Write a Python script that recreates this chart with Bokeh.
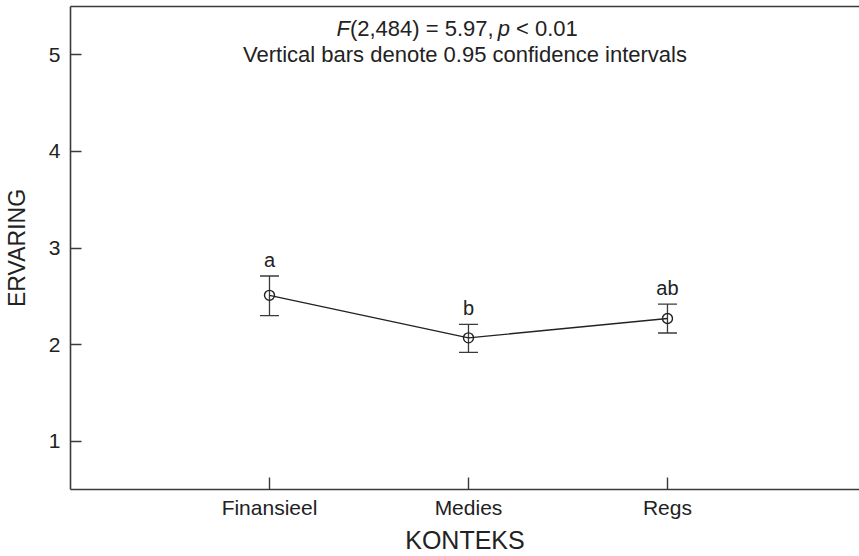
from bokeh.plotting import figure
from bokeh.models import Range1d, FixedTicker, LinearAxis, Whisker, ColumnDataSource, TeeHead
from bokeh.core.properties import value
from bokeh.embed import file_html
from bokeh.resources import INLINE

# ---- data ----
categories = ["Finansieel", "Medies", "Regs"]
means = [2.51, 2.07, 2.27]
ci_lower = [2.30, 1.92, 2.12]
ci_upper = [2.71, 2.21, 2.42]
letters = ["a", "b", "ab"]
y_ticks = [1, 2, 3, 4, 5]
x_label = "KONTEKS"
y_label = "ERVARING"
title_pieces = ["F", "(2,484) = 5.97,", "p", "< 0.01"]
title_styles = ["italic", "normal", "italic", "normal"]
subtitle = "Vertical bars denote 0.95 confidence intervals"

FONT = "Liberation Sans"
INK = "#222222"
AX = "#3a3a3a"

xs = list(range(1, len(categories) + 1))
src = ColumnDataSource(dict(x=xs, mean=means, lower=ci_lower, upper=ci_upper, letter=letters))

x_range = Range1d(0, 3.965)
y_range = Range1d(0.5, 5.5)

p = figure(width=859, height=556, x_range=x_range, y_range=y_range,
           output_backend="svg", toolbar_location=None,
           min_border_left=70, min_border_right=0, min_border_top=6, min_border_bottom=67,
           x_axis_label=x_label, y_axis_label=y_label)
p.outline_line_color = None
p.grid.visible = False
p.background_fill_color = "white"
p.border_fill_color = "white"

# axes
p.xaxis.ticker = FixedTicker(ticks=xs)
p.xaxis.major_label_overrides = {x: c for x, c in zip(xs, categories)}
p.yaxis.ticker = FixedTicker(ticks=y_ticks)
for ax in (p.xaxis, p.yaxis):
    ax.axis_line_color = AX
    ax.axis_line_width = 1.6
    ax.major_tick_line_color = AX
    ax.major_tick_line_width = 1.4
    ax.major_tick_out = 0
    ax.minor_tick_line_color = None
    ax.major_label_text_font = FONT
    ax.major_label_text_font_size = "21px"
    ax.major_label_text_color = INK
    ax.axis_label_text_font = FONT
    ax.axis_label_text_font_style = "normal"
    ax.axis_label_text_color = INK
p.xaxis.axis_label_text_font_size = "25px"
p.yaxis.axis_label_text_font_size = "23px"
p.xaxis.major_tick_in = 12
p.yaxis.major_tick_in = 11
p.xaxis.major_label_standoff = 6
p.xaxis.axis_label_standoff = 4
p.yaxis.major_label_standoff = 10
p.yaxis.axis_label_standoff = 16

top = LinearAxis(ticker=FixedTicker(ticks=[]), major_label_text_font_size="0px",
                 major_tick_in=0, major_tick_out=0, minor_tick_in=0, minor_tick_out=0,
                 major_label_standoff=0, axis_line_color=AX, axis_line_width=1.6)
p.add_layout(top, "above")

# error bars
w = Whisker(base="x", upper="upper", lower="lower", source=src,
            line_color=AX, line_width=1.3,
            upper_head=TeeHead(size=19, line_color=AX, line_width=1.3),
            lower_head=TeeHead(size=19, line_color=AX, line_width=1.3))
p.add_layout(w)

p.line("x", "mean", source=src, line_color=INK, line_width=1.3)
p.scatter("x", "mean", source=src, marker="circle", size=10,
          fill_color=None, line_color=INK, line_width=1.4)

p.text(x="x", y="upper", text="letter", source=src, text_align="center",
       text_baseline="middle", y_offset=-16, text_font=value(FONT),
       text_font_size="20px", text_color=INK)

# header texts
xc = (x_range.start + x_range.end) / 2
fs = 22
em = [0.611, 6.254, 0.556, 2.808]
gaps = [0.0, 0.0, 0.278, 0.278]
extra = [0, 0, 4, 0]
offs = []
cur = -128.5
for e, g, x_ in zip(em, gaps, extra):
    cur += g * fs + x_
    offs.append(cur)
    cur += e * fs
hdr = ColumnDataSource(dict(x=[xc] * len(title_pieces), y=[y_range.end] * len(title_pieces),
                            text=title_pieces, style=title_styles, xo=offs))
p.text(x="x", y="y", text="text", source=hdr, x_offset="xo", y_offset=22,
       text_align="left", text_baseline="middle", text_font=value(FONT),
       text_font_style="style", text_font_size=f"{fs}px", text_color=INK)
p.text(x=[xc], y=[y_range.end], text=[subtitle], x_offset=0, y_offset=47.5,
       text_align="center", text_baseline="middle", text_font=value(FONT),
       text_font_size=f"{fs}px", text_color=INK)

open("out.html", "w").write(file_html(p, INLINE))
